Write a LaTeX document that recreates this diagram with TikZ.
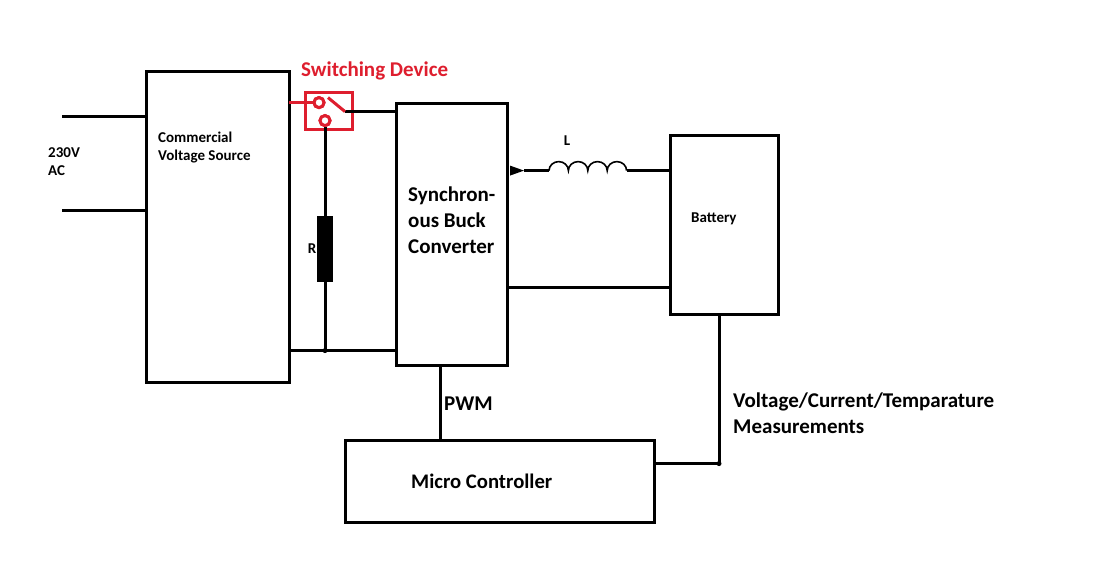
\documentclass[tikz,border=0pt]{standalone}
\usepackage{fontspec}
\setmainfont{Carlito}
\usetikzlibrary{calc}
\definecolor{switchred}{RGB}{222,30,46}
\tikzset{
    wire/.style={line width=3pt},
    blockbox/.style={draw, line width=3pt, rectangle, inner sep=0pt},
    smalltext/.style={font=\bfseries\fontsize{15}{18}\selectfont, align=left, inner sep=0pt},
    bigtext/.style={font=\bfseries\fontsize{21}{26}\selectfont, align=left, inner sep=0pt},
    redwire/.style={line width=3pt, draw=switchred},
    contact/.style={circle, draw=switchred, line width=3pt, fill=white, minimum size=10pt, inner sep=0pt},
}
\begin{document}
\begin{tikzpicture}[x=1pt,y=-1pt]
        \useasboundingbox (0,-0.6) rectangle (1116,560.4);

        % blocks
        \node[blockbox, minimum width=143pt, minimum height=311pt] (source) at (217.5,226.5) {};
        \node[blockbox, minimum width=111pt, minimum height=262pt] (buck) at (451.5,234) {};
        \node[blockbox, minimum width=108pt, minimum height=179pt] (battery) at (724,224.5) {};
        \node[blockbox, minimum width=309pt, minimum height=82pt] (micro) at (499.5,481) {};
        \node[draw=switchred, line width=3pt, rectangle, minimum width=47pt, minimum height=37pt, inner sep=0pt] (switchbox) at (328.5,110.5) {};
        \node[draw, fill=black, rectangle, minimum width=15pt, minimum height=65pt, inner sep=0pt] (resistor) at (325,248.5) {};

        % free ends and junctions
        \coordinate (acTop) at (62,116);
        \coordinate (acBot) at (62,210);
        \coordinate (railLow) at (325,350);
        \coordinate (lStart) at (549,170);
        \coordinate (lEnd) at (627,170);
        \coordinate (armA) at (328,97);
        \coordinate (armB) at (345,111);
        \coordinate (sense) at (719,463);
        \coordinate (pwmTop) at (440,365);
        \coordinate (fbTop) at (719,314);
        \coordinate (retLeft) at (507,287);
        \coordinate (arrowTip) at (524,170);

        \node[contact] (contactA) at (319,102) {};
        \node[contact] (contactB) at (325,120) {};

        % connections
        \draw[wire] (acTop) -- (acTop -| source.west);
        \draw[wire] (acBot) -- (acBot -| source.west);
        \draw[wire] (armB) -- (armB -| buck.west);
        \draw[wire] (contactB) -- (resistor);
        \draw[wire] (resistor) -- (railLow);
        \draw[wire] (railLow -| source.east) -- (railLow -| buck.west);
        \draw[wire] (retLeft) -- (retLeft -| battery.west);
        \draw[wire] (pwmTop) -- (pwmTop |- micro.north);
        \draw[wire] (fbTop) -- (sense);
        \draw[wire] (sense) -- (sense -| micro.east);
        \draw[wire] (arrowTip) -- (lStart);
        \draw[wire] (lEnd) -- (lEnd -| battery.west);
        \fill[black] (510,165) -- (524,170) -- (510,175) -- cycle;
        \fill (railLow) circle (2.5pt);
        \fill (sense) circle (2.5pt);

        % inductor
        \draw[line width=1.6pt] (lStart)
            arc[start angle=180, end angle=0, x radius=9.7pt, y radius=9pt]
            arc[start angle=180, end angle=0, x radius=9.7pt, y radius=9pt]
            arc[start angle=180, end angle=0, x radius=9.7pt, y radius=9pt]
            arc[start angle=180, end angle=0, x radius=9.7pt, y radius=9pt];

        % switch
        \draw[redwire] (289,102) -- (contactA);
        \draw[redwire] (armA) -- (armB);
        \node[contact] at (contactA) {};
        \node[contact] at (contactB) {};

        % labels
        \node[smalltext, anchor=west] (acText) at (48,161) {230V\\AC};
        \node[smalltext, anchor=west] (sourceText) at (158,146.5) {Commercial\\Voltage Source};
        \node[smalltext, anchor=center] (rText) at (312,248) {R};
        \node[smalltext, anchor=center] (lText) at (567,140) {L};
        \node[smalltext, anchor=west] (batteryText) at (691,218) {Battery};
        \node[bigtext, anchor=west] (buckText) at (408,219.5) {Synchron-\\ous Buck\\Converter};
        \node[bigtext, anchor=west] (pwmText) at (444,403) {PWM};
        \node[bigtext, anchor=west, font=\bfseries\fontsize{20.7}{26}\selectfont] (microText) at (411,481) {Micro Controller};
        \node[bigtext, anchor=west] (measureText) at (733,412.5) {Voltage/Current/Temparature\\Measurements};
        \node[bigtext, anchor=west, text=switchred] (switchText) at (301,70.5) {Switching Device};
\end{tikzpicture}
\end{document}
